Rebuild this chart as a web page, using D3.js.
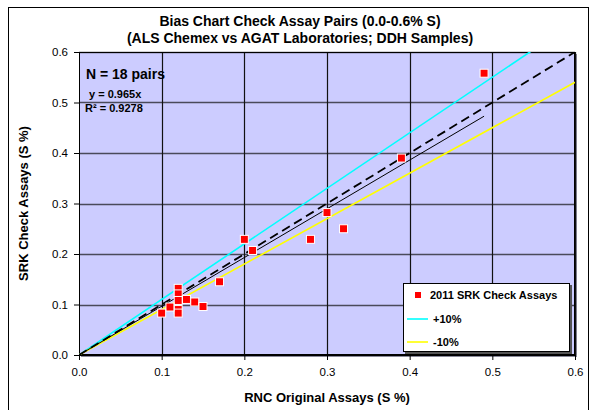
<!DOCTYPE html>
<html><head><meta charset="utf-8">
<script src="https://cdn.jsdelivr.net/npm/d3@7"></script>
<style>
html,body{margin:0;padding:0;background:#fff;}
svg{display:block;font-family:Arial,"Liberation Sans",sans-serif;}
</style></head>
<body><svg id="c" width="593" height="410"></svg>
<script>
const title1 = "Bias Chart Check Assay Pairs (0.0-0.6% S)";
const title2 = "(ALS Chemex vs AGAT Laboratories; DDH Samples)";
const xTitle = "RNC Original Assays (S %)";
const yTitle = "SRK Check Assays (S %)";
const rncOriginal = [0.49, 0.39, 0.30, 0.32, 0.28, 0.20, 0.21, 0.17, 0.12, 0.12, 0.12, 0.12, 0.12, 0.13, 0.14, 0.15, 0.11, 0.10];
const srkCheck    = [0.558, 0.39, 0.282, 0.25, 0.229, 0.229, 0.207, 0.145, 0.132, 0.121, 0.108, 0.09, 0.083, 0.11, 0.105, 0.096, 0.095, 0.083];
const tickValues = [0.0, 0.1, 0.2, 0.3, 0.4, 0.5, 0.6];
const slopePlus = 1.1, slopeMinus = 0.9, slopeFit = 0.965;
const annoN = "N = 18 pairs", annoEq = "y = 0.965x", annoR = "R\u00B2 = 0.9278";
const legendLabels = ["2011 SRK Check Assays", "+10%", "-10%"];

const svg = d3.select("#c");
const L = 79, R = 575, T = 52, B = 355;
const x = d3.scaleLinear().domain([0, 0.6]).range([L, R]);
const y = d3.scaleLinear().domain([0, 0.6]).range([B, T]);

// chart border
svg.append("rect").attr("x", 8.5).attr("y", 7.5).attr("width", 580).attr("height", 410)
  .attr("fill", "#fff").attr("stroke", "#000").attr("stroke-width", 1);

// plot shadow + area
svg.append("rect").attr("x", L + 2).attr("y", T + 2).attr("width", R - L).attr("height", B - T).attr("fill", "#8a8a9a");
svg.append("rect").attr("x", L).attr("y", T).attr("width", R - L).attr("height", B - T).attr("fill", "#CCCCFF");

// grid
svg.append("g").selectAll("line").data(tickValues.slice(1)).join("line")
  .attr("x1", L).attr("x2", R).attr("y1", d => Math.round(y(d)) + 0.5).attr("y2", d => Math.round(y(d)) + 0.5)
  .attr("stroke", "#4a4a5a").attr("stroke-width", 1.5);
svg.append("g").selectAll("line").data(tickValues.slice(1)).join("line")
  .attr("y1", T).attr("y2", B).attr("x1", d => Math.round(x(d)) + 0.5).attr("x2", d => Math.round(x(d)) + 0.5)
  .attr("stroke", "#111").attr("stroke-width", 1.2);

svg.append("rect").attr("x", L + 0.5).attr("y", T + 0.5).attr("width", R - L - 1).attr("height", B - T - 1)
  .attr("fill", "none").attr("stroke", "#000").attr("stroke-width", 1);

// axes
const xa = svg.append("g").attr("transform", `translate(0,${B})`)
  .call(d3.axisBottom(x).tickValues(tickValues).tickFormat(d3.format(".1f")).tickSize(5).tickPadding(8));
const ya = svg.append("g").attr("transform", `translate(${L},0)`)
  .call(d3.axisLeft(y).tickValues(tickValues).tickFormat(d3.format(".1f")).tickSize(5).tickPadding(6));
[xa, ya].forEach(a => {
  a.select(".domain").attr("stroke", "#000");
  a.selectAll("line").attr("stroke", "#000");
  a.selectAll("text").attr("font-size", 11.5).attr("fill", "#000").attr("font-family", "Arial, 'Liberation Sans', sans-serif");
});

// clip
svg.append("clipPath").attr("id", "pc").append("rect").attr("x", L).attr("y", T).attr("width", R - L).attr("height", B - T);
const g = svg.append("g").attr("clip-path", "url(#pc)");
const line = d3.line().x(d => x(d[0])).y(d => y(d[1]));
g.append("path").attr("d", line([[0, 0], [0.6, 0.6 * slopePlus]])).attr("stroke", "#00FFFF").attr("stroke-width", 1.6).attr("fill", "none");
g.append("path").attr("d", line([[0, 0], [0.6, 0.6 * slopeMinus]])).attr("stroke", "#FFFF00").attr("stroke-width", 1.6).attr("fill", "none");
g.append("path").attr("d", line([[0, 0], [0.6, 0.6]])).attr("stroke", "#000").attr("stroke-width", 1.8).attr("stroke-dasharray", "9,5").attr("fill", "none");
const xmax = d3.max(rncOriginal);
g.append("path").attr("d", line([[0, 0], [xmax, xmax * slopeFit]])).attr("stroke", "#000").attr("stroke-width", 1).attr("fill", "none");

// points
svg.append("g").selectAll("rect").data(rncOriginal.map((v, i) => [v, srkCheck[i]])).join("rect")
  .attr("x", d => x(d[0]) - 4).attr("y", d => y(d[1]) - 4).attr("width", 8).attr("height", 8)
  .attr("fill", "#FF0000").attr("stroke", "#fff").attr("stroke-width", 1);

// titles
svg.append("text").attr("x", 300).attr("y", 26).attr("text-anchor", "middle").attr("font-weight", "bold").attr("font-size", 14).text(title1);
svg.append("text").attr("x", 300).attr("y", 43).attr("text-anchor", "middle").attr("font-weight", "bold").attr("font-size", 14).text(title2);
svg.append("text").attr("x", (L + R) / 2).attr("y", 402).attr("text-anchor", "middle").attr("font-weight", "bold").attr("font-size", 13).text(xTitle);
svg.append("text").attr("transform", `translate(28,${(T + B) / 2}) rotate(-90)`).attr("text-anchor", "middle").attr("font-weight", "bold").attr("font-size", 13).text(yTitle);

// annotations
svg.append("text").attr("x", 86).attr("y", 79).attr("font-weight", "bold").attr("font-size", 14).text(annoN);
svg.append("text").attr("x", 89).attr("y", 98).attr("font-weight", "bold").attr("font-size", 11).text(annoEq);
svg.append("text").attr("x", 85).attr("y", 112).attr("font-weight", "bold").attr("font-size", 11).text(annoR);

// legend
const lg = svg.append("g");
lg.append("rect").attr("x", 405).attr("y", 285).attr("width", 167).attr("height", 69).attr("fill", "#555");
lg.append("rect").attr("x", 403.5).attr("y", 283.5).attr("width", 166).attr("height", 68).attr("fill", "#fff").attr("stroke", "#000").attr("stroke-width", 1);
lg.append("rect").attr("x", 415).attr("y", 292).attr("width", 6).attr("height", 6).attr("fill", "#FF0000");
lg.append("line").attr("x1", 407).attr("x2", 428).attr("y1", 319).attr("y2", 319).attr("stroke", "#00FFFF").attr("stroke-width", 1.6);
lg.append("line").attr("x1", 407).attr("x2", 428).attr("y1", 342).attr("y2", 342).attr("stroke", "#FFFF00").attr("stroke-width", 1.6);
lg.selectAll("text").data(legendLabels).join("text")
  .attr("x", (d, i) => i === 0 ? 430 : 433).attr("y", (d, i) => [299, 323, 346][i])
  .attr("font-weight", "bold").attr("font-size", 11).text(d => d);
</script></body></html>
